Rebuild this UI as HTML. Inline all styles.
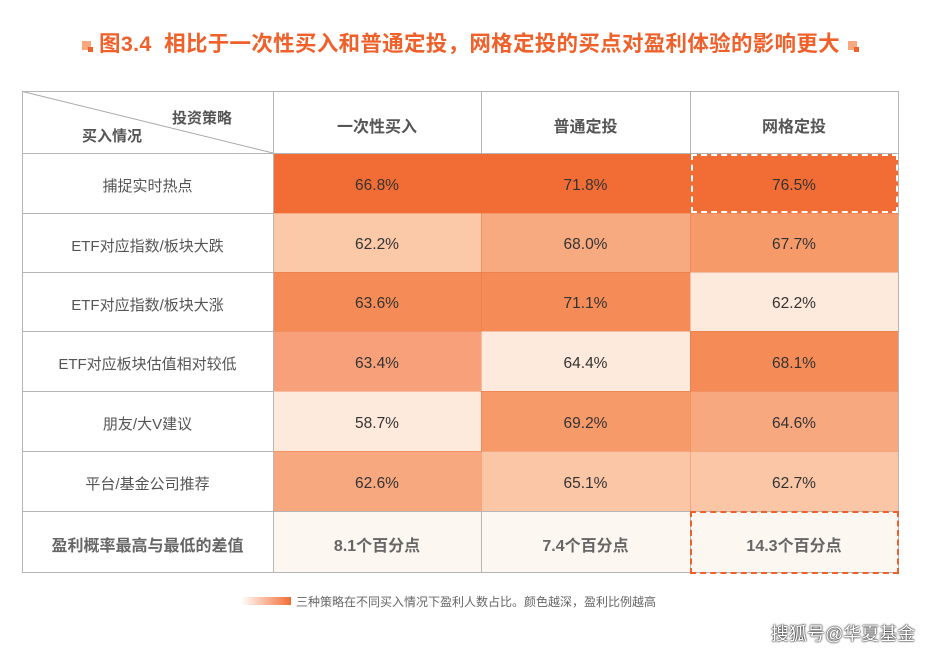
<!DOCTYPE html>
<html><head><meta charset="utf-8"><style>
*{margin:0;padding:0;box-sizing:border-box}
body{width:939px;height:651px;background:#fff;position:relative;font-family:"Liberation Sans","Noto Sans CJK SC",sans-serif;overflow:hidden}
.t{position:absolute;top:27px;left:0;width:939px;text-align:center;font-size:21.5px;font-weight:bold;color:#f0602a;white-space:nowrap;letter-spacing:0.3px}
.sq{display:inline-block;width:9px;height:9px;background:#f8a87f;position:relative;vertical-align:middle;margin:0 8px}
.sq:after{content:"";position:absolute;right:-2px;bottom:-2px;width:5px;height:5px;background:#f0602a}
.c{position:absolute;display:flex;align-items:center;justify-content:center;font-size:15.5px;color:#333;padding-top:5px}
.h{font-size:16px;font-weight:bold;color:#555}
.r{color:#555;font-size:15px}
.d{font-size:16px;font-weight:bold;color:#666}
</style></head><body>
<div class="t"><span class="sq"></span>图3.4&nbsp; 相比于一次性买入和普通定投，网格定投的买点对盈利体验的影响更大<span class="sq"></span></div>
<div id="g"></div>
<svg style="position:absolute;left:0;top:0" width="939" height="651" id="s"></svg>
<div style="position:absolute;left:691px;top:154px;width:207px;height:59px;border:2px dashed #fff"></div>
<div style="position:absolute;left:690px;top:511px;width:209px;height:63px;border:2px dashed #f0602a"></div>
<div style="position:absolute;left:172px;top:107px;font-size:15px;font-weight:bold;color:#555">投资策略</div>
<div style="position:absolute;left:82px;top:125px;font-size:15px;font-weight:bold;color:#555">买入情况</div>
<script>
var cols=[22,273,481,690,898],rows=[91,153,213,272,331,391,451,511,572];
var H=["","一次性买入","普通定投","网格定投"];
var R=["捕捉实时热点","ETF对应指数/板块大跌","ETF对应指数/板块大涨","ETF对应板块估值相对较低","朋友/大V建议","平台/基金公司推荐"];
var V=[["66.8%","71.8%","76.5%"],["62.2%","68.0%","67.7%"],["63.6%","71.1%","62.2%"],["63.4%","64.4%","68.1%"],["58.7%","69.2%","64.6%"],["62.6%","65.1%","62.7%"]];
var C=[["#f26d35","#f26d35","#f26d35"],["#fbc9a8","#f7a97f","#f69a6a"],["#f58c57","#f58c57","#fdeadc"],["#f7a07a","#fdeadc","#f58c57"],["#fdeadc","#f69a6a","#f8a87f"],["#f8a87f","#fbc6a6","#fbc6a6"]];
var D=["8.1个百分点","7.4个百分点","14.3个百分点"];
var s="";
function cell(c,r,txt,cls,bg){s+='<div class="c '+cls+'" style="left:'+cols[c]+'px;top:'+rows[r]+'px;width:'+(cols[c+1]-cols[c])+'px;height:'+(rows[r+1]-rows[r])+'px;background:'+bg+'">'+txt+'</div>';}
for(var c=1;c<4;c++)cell(c,0,H[c],"h","#fff");
for(var r=0;r<6;r++){cell(0,r+1,R[r],"r","#fff");for(var c=0;c<3;c++)cell(c+1,r+1,V[r][c],"",C[r][c]);}
cell(0,7,"盈利概率最高与最低的差值","d","#fff");
for(var c=0;c<3;c++)cell(c+1,7,D[c],"d","#fdf7f2");
document.getElementById("g").innerHTML=s;
var L='<line x1="22.5" y1="91.5" x2="273" y2="153" stroke="#aaa"/>';
function ln(x1,y1,x2,y2,col){L+='<line x1="'+x1+'" y1="'+y1+'" x2="'+x2+'" y2="'+y2+'" stroke="'+col+'" stroke-width="1"/>';}
var g="#b5b5b5",f="rgba(230,110,60,0.35)";
for(var i=0;i<rows.length;i++){var y=rows[i]+0.5;
 if(i==0||i==1||i>=7)ln(22,y,899,y,g);else{ln(22,y,273,y,g);ln(273,y,898,y,f);}}
for(var j=0;j<cols.length;j++){var x=cols[j]+0.5;
 if(j==0||j==4)ln(x,91,x,573,g);else{ln(x,91,x,153,g);ln(x,153,x,511,j==1?g:f);ln(x,511,x,573,g);}}
document.getElementById("s").innerHTML=L;
</script>
<div style="position:absolute;left:241px;top:597px;width:50px;height:8px;background:linear-gradient(90deg,#fff,#f26d35)"></div>
<div style="position:absolute;left:296px;top:593px;font-size:12px;color:#666">三种策略在不同买入情况下盈利人数占比。颜色越深，盈利比例越高</div>
<div style="position:absolute;left:771px;top:620px;font-size:18px;color:#fff;text-shadow:0 0 2px #000,0 0 1px #000">搜狐号@华夏基金</div>
</body></html>
